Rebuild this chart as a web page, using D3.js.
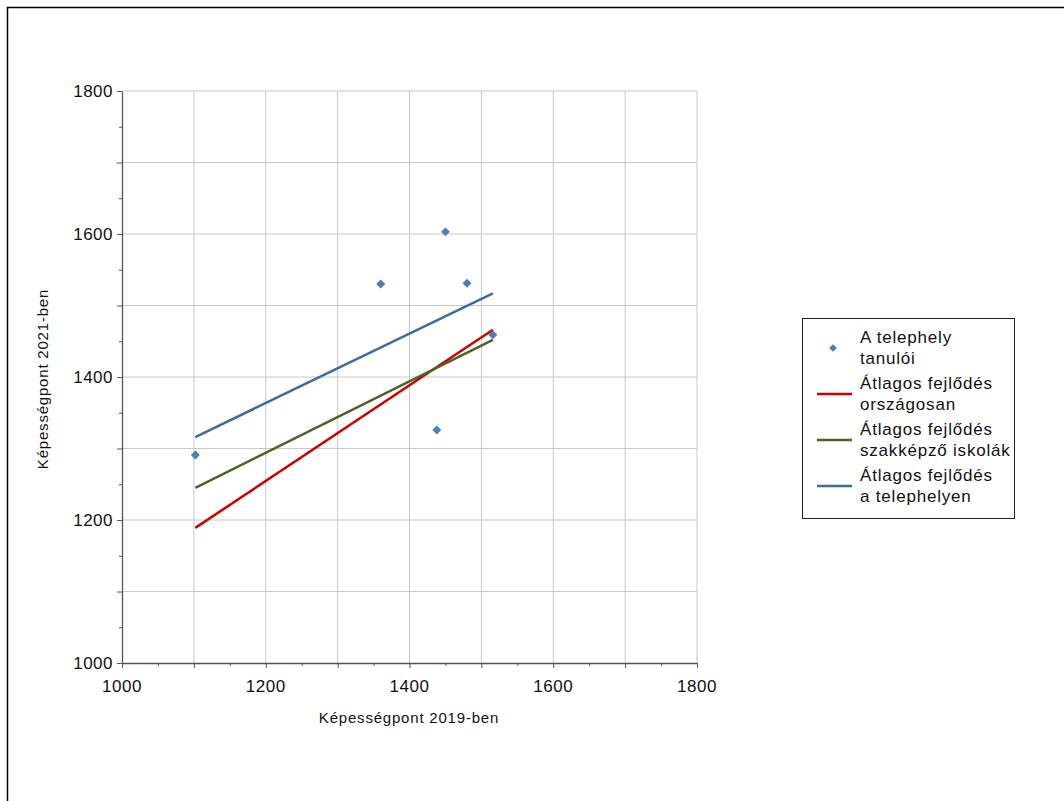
<!DOCTYPE html>
<html lang="hu">
<head>
<meta charset="UTF-8">
<script src="https://d3js.org/d3.v7.min.js"></script>
<style>
  body { margin: 0; background: #fff; }
  text { font-family: "Liberation Sans", Arial, sans-serif; fill: #111; }
</style>
</head>
<body>
<div id="chart"></div>
<script>
// tanulók pontjai (2019 -> 2021)
var pontX = [1102, 1360, 1450, 1480, 1438, 1516];
var pontY = [1291, 1530, 1603, 1531, 1326, 1459];

// átlagos fejlődés vonalai: [x0, x1], [y0, y1]
var lineX = [1102, 1516];
var orszagosY = [1189, 1466];
var szakkepzoY = [1245, 1452];
var telephelyY = [1316, 1517];

var tickLabels = [1000, 1200, 1400, 1600, 1800];

var legendLabels = [
  ["A telephely", "tanulói"],
  ["Átlagos fejlődés", "országosan"],
  ["Átlagos fejlődés", "szakképző iskolák"],
  ["Átlagos fejlődés", "a telephelyen"]
];
var colors = ["#4a7ebb", "#cc0000", "#4f6228", "#3e6aa3"];

var width = 1064, height = 801;
var svg = d3.select("#chart").append("svg")
  .attr("width", width).attr("height", height);

// keret
svg.append("rect")
  .attr("x", 7.5).attr("y", 7.5)
  .attr("width", width).attr("height", height)
  .attr("fill", "none").attr("stroke", "#000").attr("stroke-width", 1.5);

var x = d3.scaleLinear().domain([1000, 1800]).range([122, 697]);
var y = d3.scaleLinear().domain([1000, 1800]).range([663, 91]);

var grid100 = d3.range(1100, 1801, 100);
var ticks50 = d3.range(1000, 1801, 50);

// rács
svg.append("g").selectAll("line.gx").data(grid100).enter().append("line")
  .attr("x1", function (d) { return x(d); }).attr("x2", function (d) { return x(d); })
  .attr("y1", y(1000)).attr("y2", y(1800))
  .attr("stroke", "#c8c8c8").attr("stroke-width", 1);
svg.append("g").selectAll("line.gy").data(grid100).enter().append("line")
  .attr("y1", function (d) { return y(d); }).attr("y2", function (d) { return y(d); })
  .attr("x1", x(1000)).attr("x2", x(1800))
  .attr("stroke", "#c8c8c8").attr("stroke-width", 1);

// tengelyek
var xAxis = svg.append("g").attr("transform", "translate(0," + y(1000) + ")")
  .call(d3.axisBottom(x).tickValues(ticks50).tickSizeOuter(0).tickFormat(""));
var yAxis = svg.append("g").attr("transform", "translate(" + x(1000) + ",0)")
  .call(d3.axisLeft(y).tickValues(ticks50).tickSizeOuter(0).tickFormat(""));
[xAxis, yAxis].forEach(function (ax) {
  ax.select(".domain").attr("stroke", "#555").attr("stroke-width", 1.3);
  ax.selectAll(".tick line").attr("stroke", "#555")
    .attr(ax === xAxis ? "y2" : "x2", function (d) {
      var len = d % 100 === 0 ? 5 : 3;
      return ax === xAxis ? len : -len;
    });
});

svg.append("g").selectAll("text").data(tickLabels).enter().append("text")
  .attr("x", function (d) { return x(d); }).attr("y", y(1000) + 29)
  .attr("text-anchor", "middle").attr("font-size", 17).attr("letter-spacing", 0.5)
  .text(function (d) { return d; });
svg.append("g").selectAll("text").data(tickLabels).enter().append("text")
  .attr("x", x(1000) - 9).attr("y", function (d) { return y(d) + 6; })
  .attr("text-anchor", "end").attr("font-size", 17).attr("letter-spacing", 0.5)
  .text(function (d) { return d; });

svg.append("text").attr("x", 409).attr("y", 723)
  .attr("text-anchor", "middle").attr("font-size", 15).attr("letter-spacing", 0.8)
  .text("Képességpont 2019-ben");
svg.append("text")
  .attr("transform", "translate(48,379) rotate(-90)")
  .attr("text-anchor", "middle").attr("font-size", 15).attr("letter-spacing", 0.8)
  .text("Képességpont 2021-ben");

// vonalak
var series = [orszagosY, szakkepzoY, telephelyY];
series.forEach(function (ys, i) {
  svg.append("line")
    .attr("x1", x(lineX[0])).attr("y1", y(ys[0]))
    .attr("x2", x(lineX[1])).attr("y2", y(ys[1]))
    .attr("stroke", colors[i + 1]).attr("stroke-width", 2.5);
});

// pontok (45 fokkal elforgatott négyzet)
var diamond = d3.symbol().type(d3.symbolSquare).size(40);
svg.append("g").selectAll("path").data(pontX).enter().append("path")
  .attr("d", diamond)
  .attr("transform", function (d, i) { return "translate(" + x(d) + "," + y(pontY[i]) + ") rotate(45)"; })
  .attr("fill", colors[0]);

// jelmagyarázat
var lg = svg.append("g");
lg.append("rect").attr("x", 802.5).attr("y", 318.5).attr("width", 212).attr("height", 200)
  .attr("fill", "#fff").attr("stroke", "#222").attr("stroke-width", 1);
legendLabels.forEach(function (lab, i) {
  var base = 343 + i * 46;
  var my = base + 5;
  if (i === 0) {
    lg.append("path").attr("d", diamond.size(30))
      .attr("transform", "translate(833," + my + ") rotate(45)").attr("fill", colors[0]);
  } else {
    lg.append("line").attr("x1", 817).attr("x2", 852).attr("y1", my).attr("y2", my)
      .attr("stroke", colors[i]).attr("stroke-width", 2.5);
  }
  lab.forEach(function (t, j) {
    lg.append("text").attr("x", 860).attr("y", base + j * 20.5)
      .attr("font-size", 17).attr("letter-spacing", 0.8).text(t);
  });
});
</script>
</body>
</html>
